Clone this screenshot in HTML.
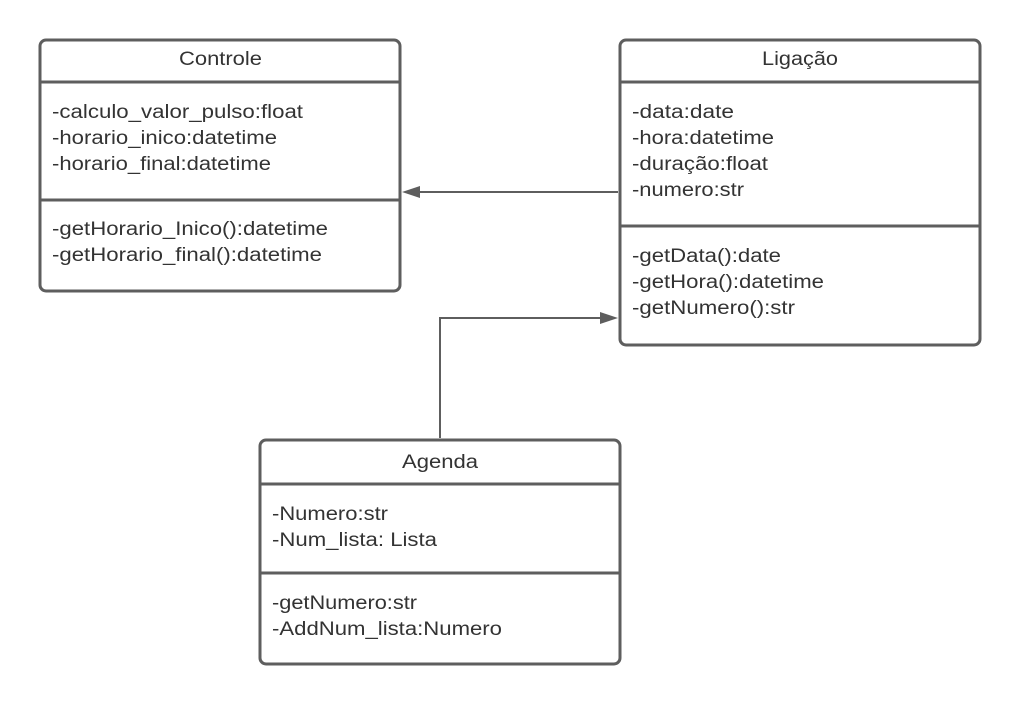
<!DOCTYPE html>
<html><head><style>html,body{margin:0;padding:0;background:#fff}</style></head><body>
<svg width="1020" height="704" xmlns="http://www.w3.org/2000/svg" font-family="Liberation Sans, Arial, sans-serif" font-size="19" fill="#333">
<g fill="none" stroke="#5e5e5e" stroke-width="3">
<rect x="40" y="40" width="360" height="251" rx="6"/>
<line x1="40" y1="82" x2="400" y2="82"/><line x1="40" y1="200" x2="400" y2="200"/>
<rect x="620" y="40" width="360" height="305" rx="6"/>
<line x1="620" y1="82" x2="980" y2="82"/><line x1="620" y1="226" x2="980" y2="226"/>
<rect x="260" y="440" width="360" height="224" rx="6"/>
<line x1="260" y1="484" x2="620" y2="484"/><line x1="260" y1="573" x2="620" y2="573"/>
</g>
<g fill="none" stroke="#5e5e5e" stroke-width="2">
<line x1="618" y1="192" x2="418" y2="192"/>
<polyline points="440,438 440,318 604,318"/>
</g>
<polygon points="402,192 420,186 420,198" fill="#5e5e5e"/>
<polygon points="618,318 600,312 600,324" fill="#5e5e5e"/>
<g lengthAdjust="spacingAndGlyphs">
<text x="179" y="65" textLength="83" lengthAdjust="spacingAndGlyphs">Controle</text>
<text x="762" y="65" textLength="76" lengthAdjust="spacingAndGlyphs">Ligação</text>
<text x="402" y="468" textLength="76" lengthAdjust="spacingAndGlyphs">Agenda</text>
<text x="52" y="118" textLength="251" lengthAdjust="spacingAndGlyphs">-calculo_valor_pulso:float</text>
<text x="52" y="144" textLength="225" lengthAdjust="spacingAndGlyphs">-horario_inico:datetime</text>
<text x="52" y="170" textLength="219" lengthAdjust="spacingAndGlyphs">-horario_final:datetime</text>
<text x="52" y="235" textLength="276" lengthAdjust="spacingAndGlyphs">-getHorario_Inico():datetime</text>
<text x="52" y="261" textLength="270" lengthAdjust="spacingAndGlyphs">-getHorario_final():datetime</text>
<text x="632" y="118" textLength="102" lengthAdjust="spacingAndGlyphs">-data:date</text>
<text x="632" y="144" textLength="142" lengthAdjust="spacingAndGlyphs">-hora:datetime</text>
<text x="632" y="170" textLength="136" lengthAdjust="spacingAndGlyphs">-duração:float</text>
<text x="632" y="196" textLength="112" lengthAdjust="spacingAndGlyphs">-numero:str</text>
<text x="632" y="262" textLength="149" lengthAdjust="spacingAndGlyphs">-getData():date</text>
<text x="632" y="288" textLength="192" lengthAdjust="spacingAndGlyphs">-getHora():datetime</text>
<text x="632" y="314" textLength="163" lengthAdjust="spacingAndGlyphs">-getNumero():str</text>
<text x="272" y="520" textLength="116" lengthAdjust="spacingAndGlyphs">-Numero:str</text>
<text x="272" y="546" textLength="165" lengthAdjust="spacingAndGlyphs">-Num_lista: Lista</text>
<text x="272" y="609" textLength="145" lengthAdjust="spacingAndGlyphs">-getNumero:str</text>
<text x="272" y="635" textLength="230" lengthAdjust="spacingAndGlyphs">-AddNum_lista:Numero</text>
</g>
</svg>
</body></html>
